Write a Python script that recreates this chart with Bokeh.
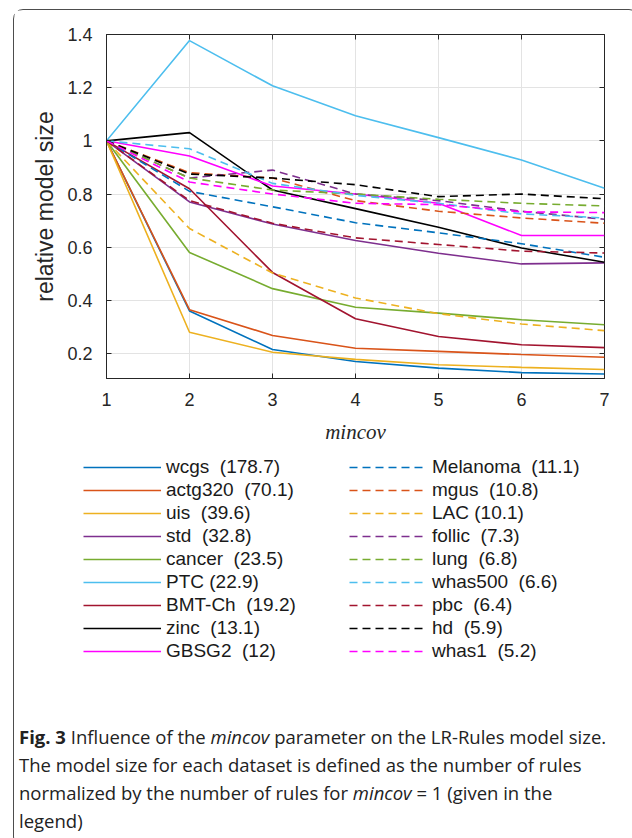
from bokeh.plotting import figure
from bokeh.layouts import column
from bokeh.models import (Range1d, FixedTicker, LinearAxis, Legend, LegendItem, Div)
from bokeh.embed import file_html
from bokeh.resources import INLINE

# ---------------- data ----------------
MINCOV = [1, 2, 3, 4, 5, 6, 7]
X_TICKS = [1, 2, 3, 4, 5, 6, 7]
Y_TICKS = [0.2, 0.4, 0.6, 0.8, 1.0, 1.2, 1.4]
Y_TICK_LABELS = ["0.2", "0.4", "0.6", "0.8", "1", "1.2", "1.4"]

wcgs     = [1, 0.360, 0.215, 0.170, 0.145, 0.128, 0.123]
actg320  = [1, 0.365, 0.268, 0.220, 0.208, 0.196, 0.186]
uis      = [1, 0.280, 0.205, 0.178, 0.158, 0.148, 0.140]
std      = [1, 0.770, 0.687, 0.625, 0.577, 0.537, 0.541]
cancer   = [1, 0.580, 0.444, 0.374, 0.352, 0.327, 0.308]
PTC      = [1, 1.377, 1.207, 1.094, 1.012, 0.928, 0.822]
BMT_Ch   = [1, 0.820, 0.505, 0.331, 0.264, 0.233, 0.222]
zinc     = [1, 1.031, 0.815, 0.745, 0.675, 0.597, 0.543]
GBSG2    = [1, 0.943, 0.830, 0.800, 0.765, 0.644, 0.644]
Melanoma = [1, 0.810, 0.752, 0.692, 0.654, 0.613, 0.562]
mgus     = [1, 0.880, 0.860, 0.775, 0.735, 0.710, 0.690]
LAC      = [1, 0.670, 0.503, 0.409, 0.350, 0.311, 0.286]
follic   = [1, 0.860, 0.890, 0.800, 0.775, 0.735, 0.705]
lung     = [1, 0.860, 0.815, 0.800, 0.780, 0.765, 0.755]
whas500  = [1, 0.970, 0.840, 0.795, 0.765, 0.725, 0.710]
pbc      = [1, 0.775, 0.690, 0.635, 0.610, 0.585, 0.578]
hd       = [1, 0.875, 0.860, 0.835, 0.790, 0.800, 0.782]
whas1    = [1, 0.845, 0.800, 0.765, 0.760, 0.733, 0.730]

SOLID_SERIES = [wcgs, actg320, uis, std, cancer, PTC, BMT_Ch, zinc, GBSG2]
SOLID_LABELS = ["wcgs  (178.7)", "actg320  (70.1)", "uis  (39.6)", "std  (32.8)",
                "cancer  (23.5)", "PTC (22.9)", "BMT-Ch  (19.2)", "zinc  (13.1)",
                "GBSG2  (12)"]
DASHED_SERIES = [Melanoma, mgus, LAC, follic, lung, whas500, pbc, hd, whas1]
DASHED_LABELS = ["Melanoma  (11.1)", "mgus  (10.8)", "LAC (10.1)", "follic  (7.3)",
                 "lung  (6.8)", "whas500  (6.6)", "pbc  (6.4)", "hd  (5.9)",
                 "whas1  (5.2)"]
COLORS = ["#0072BD", "#D95319", "#EDB120", "#7E2F8E", "#77AC30", "#4DBEEE",
          "#A2142F", "#000000", "#FF00FF"]

CAPTION_HTML = ("<b>Fig. 3</b> Influence of the <i>mincov</i> parameter on the LR-Rules "
                "model size.<br>The model size for each dataset is defined as the number "
                "of rules<br>normalized by the number of rules for <i>mincov</i> = 1 "
                "(given in the<br>legend)")

# ---------------- layout constants (page pixels) ----------------
OX, OY = 14, 10          # page position of the content (inside the rounded border)
W = 614
H1 = 436                 # plot part      (page y 10 .. 446)
H2 = 224                 # legend part    (page y 446 .. 670)
H3 = 166                 # caption part   (page y 670 .. 836)
FL, FT, FW, FH = 106 - OX, 34 - OY, 498, 344

AX = "#262626"
LW = 1.6

p = figure(width=W, height=H1, output_backend="svg", toolbar_location=None,
           x_range=Range1d(1, 7), y_range=Range1d(0.106, 1.4),
           min_border_left=FL, min_border_top=FT,
           min_border_right=W - FL - FW, min_border_bottom=H1 - FT - FH)
p.background_fill_color = "white"
p.border_fill_color = "white"
p.outline_line_color = AX
p.outline_line_width = 1

for ax in (p.xaxis[0], p.yaxis[0]):
    ax.axis_line_color = AX
    ax.major_tick_line_color = AX
    ax.major_tick_in = 5
    ax.major_tick_out = 0
    ax.minor_tick_line_color = None
    ax.major_label_text_font = "Liberation Sans"
    ax.major_label_text_font_size = "18px"
    ax.major_label_text_color = AX
    ax.major_label_standoff = 14

p.xaxis.ticker = FixedTicker(ticks=X_TICKS)
p.yaxis.ticker = FixedTicker(ticks=Y_TICKS)
p.yaxis.major_label_overrides = {t: l for t, l in zip(Y_TICKS, Y_TICK_LABELS)}

p.xaxis.axis_label = "mincov"
p.xaxis.axis_label_text_font = "Liberation Serif"
p.xaxis.axis_label_text_font_style = "italic"
p.xaxis.axis_label_text_font_size = "21px"
p.xaxis.axis_label_text_color = AX
p.xaxis.axis_label_standoff = 11

p.yaxis.axis_label = "relative model size"
p.yaxis.axis_label_text_font = "Liberation Sans"
p.yaxis.axis_label_text_font_style = "normal"
p.yaxis.axis_label_text_font_size = "23px"
p.yaxis.axis_label_text_color = AX
p.yaxis.axis_label_standoff = 6

for side, tk in (("above", X_TICKS), ("right", Y_TICKS)):
    a = LinearAxis(ticker=FixedTicker(ticks=tk), major_label_text_color=None,
                   major_label_text_font_size="1px", major_label_standoff=0,
                   axis_line_color=None, major_tick_line_color=AX,
                   major_tick_in=5, major_tick_out=0, minor_tick_line_color=None)
    p.add_layout(a, side)

p.xgrid.ticker = FixedTicker(ticks=X_TICKS)
p.ygrid.ticker = FixedTicker(ticks=Y_TICKS)
p.grid.grid_line_color = "#e3e3e3"
p.grid.grid_line_width = 1

for ys, c in zip(SOLID_SERIES, COLORS):
    p.line(MINCOV, ys, line_color=c, line_width=LW)
for ys, c in zip(DASHED_SERIES, COLORS):
    p.line(MINCOV, ys, line_color=c, line_width=LW, line_dash="8 5")

# ---------------- legend figure ----------------
q = figure(width=W, height=H2, output_backend="svg", toolbar_location=None,
           x_range=Range1d(1, 7), y_range=Range1d(0.106, 1.4),
           x_axis_type=None, y_axis_type=None,
           min_border_left=0, min_border_right=0, min_border_top=0, min_border_bottom=0)
q.grid.visible = False
q.outline_line_color = None
q.background_fill_color = "white"
q.border_fill_color = "white"

solid_items, dashed_items = [], []
for ys, lab, c in zip(SOLID_SERIES, SOLID_LABELS, COLORS):
    r = q.line(MINCOV, ys, line_color=c, line_width=LW, visible=False)
    solid_items.append(LegendItem(label=lab, renderers=[r]))
for ys, lab, c in zip(DASHED_SERIES, DASHED_LABELS, COLORS):
    r = q.line(MINCOV, ys, line_color=c, line_width=LW, line_dash="8 5", visible=False)
    dashed_items.append(LegendItem(label=lab, renderers=[r]))

LEG_TOP = 456 - (OY + H1)
for items, left in ((solid_items, 83), (dashed_items, 349)):
    n = len(items)
    leg_h = n * 22 + (n - 1) * 1
    lg = Legend(items=items, location=(left - OX, H2 - (LEG_TOP + leg_h)),
                orientation="vertical", padding=0, margin=0, spacing=1,
                glyph_width=78, glyph_height=22, label_height=22,
                label_standoff=5, label_text_font="Liberation Sans",
                label_text_font_size="19px", label_text_color="#1a1a1a",
                background_fill_alpha=0, border_line_alpha=0)
    q.add_layout(lg, "center")

cap = Div(text=('<div style="padding:48px 0 0 0; font-family:\'Open Sans\'; '
                'font-size:18.5px; line-height:28px; color:#222222; white-space:nowrap;">'
                + CAPTION_HTML + '</div>'),
          width=W, height=H3)

layout = column(p, column(q), cap, spacing=0, margin=(OY - 1, 0, 0, OX - 1),
                styles={"border": "1px solid #4d4d4d", "border-radius": "10px"})

open("out.html", "w").write(file_html(layout, INLINE))
